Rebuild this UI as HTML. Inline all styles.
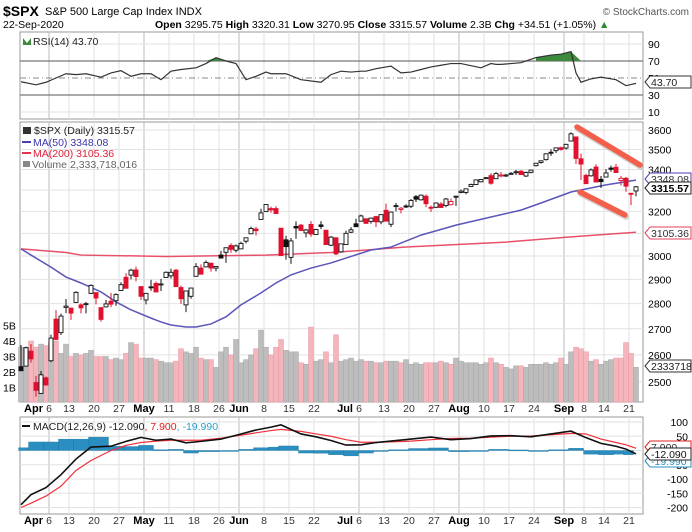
<!DOCTYPE html>
<html><head><meta charset="utf-8">
<style>
body{margin:0;background:#fff;font-family:"Liberation Sans",sans-serif;}
svg{display:block}
text{font-family:"Liberation Sans",sans-serif;}
</style></head><body>
<svg id="c" width="692" height="532" viewBox="0 0 692 532">
<text x="3" y="16" font-size="14" font-weight="bold">$SPX</text>
<text x="45" y="15" font-size="11">S&amp;P 500 Large Cap Index  INDX</text>
<text x="689" y="15" font-size="10" fill="#555" text-anchor="end">© StockCharts.com</text>
<text x="3" y="28" font-size="10.5">22-Sep-2020</text>
<text x="155" y="28" font-size="10.5"><tspan font-weight="bold">Open</tspan> 3295.75 <tspan font-weight="bold">High</tspan> 3320.31 <tspan font-weight="bold">Low</tspan> 3270.95 <tspan font-weight="bold">Close</tspan> 3315.57 <tspan font-weight="bold">Volume</tspan> 2.3B <tspan font-weight="bold">Chg</tspan> +34.51 (+1.05%) <tspan fill="#2a8a2a">▲</tspan></text>
<g id="g"></g>
</svg>
<script>
const dates=["3/27","3/30","3/31","4/1","4/2","4/3","4/6","4/7","4/8","4/9","4/13","4/14","4/15","4/16","4/17","4/20","4/21","4/22","4/23","4/24","4/27","4/28","4/29","4/30","5/1","5/4","5/5","5/6","5/7","5/8","5/11","5/12","5/13","5/14","5/15","5/18","5/19","5/20","5/21","5/22","5/26","5/27","5/28","5/29","6/1","6/2","6/3","6/4","6/5","6/8","6/9","6/10","6/11","6/12","6/15","6/16","6/17","6/18","6/19","6/22","6/23","6/24","6/25","6/26","6/29","6/30","7/1","7/2","7/6","7/7","7/8","7/9","7/10","7/13","7/14","7/15","7/16","7/17","7/20","7/21","7/22","7/23","7/24","7/27","7/28","7/29","7/30","7/31","8/3","8/4","8/5","8/6","8/7","8/10","8/11","8/12","8/13","8/14","8/17","8/18","8/19","8/20","8/21","8/24","8/25","8/26","8/27","8/28","8/31","9/1","9/2","9/3","9/4","9/8","9/9","9/10","9/11","9/14","9/15","9/16","9/17","9/18","9/21","9/22"];
const opens=[2556,2558,2614,2498,2459,2515,2578,2738,2685,2785,2782,2805,2795,2799,2842,2845,2784,2787,2810,2812,2854,2909,2918,2940,2870,2815,2869,2883,2879,2908,2915,2939,2866,2795,2830,2913,2948,2953,2969,2948,3004,3016,3046,3025,3031,3065,3098,3119,3163,3199,3213,3213,3123,3071,2994,3131,3137,3102,3140,3095,3138,3114,3047,3080,3018,3050,3105,3143,3155,3166,3154,3176,3152,3205,3141,3225,3209,3225,3224,3269,3254,3271,3219,3219,3234,3227,3231,3270,3289,3289,3317,3327,3340,3356,3370,3355,3372,3368,3380,3388,3392,3368,3386,3419,3435,3449,3486,3494,3509,3507,3543,3564,3453,3371,3369,3412,3352,3363,3407,3411,3346,3357,3285,3296];
const highs=[2637,2631,2641,2522,2540,2520,2677,2774,2760,2819,2783,2851,2801,2807,2880,2845,2785,2815,2844,2842,2888,2926,2945,2954,2870,2844,2898,2891,2902,2934,2945,2944,2874,2853,2865,2969,2964,2981,2970,2956,3022,3037,3056,3050,3063,3081,3130,3129,3212,3233,3222,3224,3124,3089,3079,3154,3142,3120,3155,3120,3155,3115,3088,3082,3054,3112,3128,3166,3185,3168,3172,3180,3186,3236,3198,3239,3220,3233,3258,3277,3279,3280,3227,3242,3243,3263,3260,3273,3303,3308,3331,3352,3352,3363,3382,3387,3388,3379,3388,3399,3396,3390,3399,3432,3445,3481,3501,3510,3514,3529,3588,3565,3479,3379,3405,3425,3368,3402,3419,3428,3369,3363,3285,3320];
const lows=[2540,2558,2571,2447,2459,2488,2573,2656,2676,2762,2735,2803,2761,2761,2840,2797,2728,2785,2786,2791,2854,2862,2900,2892,2815,2797,2853,2846,2852,2907,2904,2870,2799,2766,2820,2913,2922,2953,2933,2934,2992,2970,3014,3015,3030,3055,3097,3090,3164,3199,3194,3190,3001,2984,2966,3076,3110,3082,3084,3094,3119,3048,3043,3004,3014,3048,3101,3128,3155,3144,3144,3128,3141,3154,3128,3200,3191,3216,3216,3244,3251,3220,3198,3215,3218,3219,3228,3225,3285,3280,3317,3324,3337,3355,3326,3355,3362,3363,3379,3373,3374,3363,3381,3415,3429,3444,3468,3483,3494,3500,3541,3427,3349,3330,3365,3339,3310,3363,3389,3384,3322,3292,3230,3270];
const closes=[2541,2627,2585,2470,2526,2489,2664,2659,2750,2790,2762,2846,2783,2800,2875,2823,2737,2799,2798,2837,2878,2863,2939,2912,2830,2842,2868,2848,2881,2930,2930,2870,2820,2852,2864,2954,2922,2972,2948,2955,2991,3036,3029,3044,3055,3080,3122,3112,3193,3232,3207,3190,3002,3041,3066,3124,3113,3115,3097,3117,3131,3050,3083,3009,3053,3100,3116,3130,3179,3145,3169,3152,3185,3155,3197,3227,3215,3224,3251,3257,3276,3236,3216,3239,3218,3258,3246,3271,3295,3306,3327,3349,3351,3360,3333,3380,3373,3373,3381,3389,3375,3385,3397,3431,3443,3478,3484,3508,3500,3526,3580,3455,3427,3331,3398,3339,3341,3383,3401,3385,3357,3319,3281,3316];
const volumes=[3.6,3.6,4.0,3.6,3.8,3.7,3.9,4.0,3.2,3.8,3.0,3.2,3.1,3.2,3.4,3.0,3.0,3.0,2.8,2.9,2.8,3.2,3.9,3.8,2.9,2.9,2.9,2.8,2.7,2.6,2.6,2.7,3.5,3.3,3.2,3.6,2.9,2.8,2.8,2.3,3.3,3.6,3.1,4.1,2.6,2.8,3.1,3.5,4.7,3.6,3.1,3.6,4.1,3.4,3.3,3.3,2.6,2.5,4.9,2.7,2.8,3.3,2.6,4.4,2.7,2.8,2.9,2.7,2.8,2.7,2.7,2.6,2.6,2.7,2.7,2.7,2.6,2.8,2.5,2.6,2.5,2.6,2.6,2.6,2.7,2.6,2.5,2.9,2.7,2.6,2.6,2.6,2.5,2.6,2.9,2.6,2.5,2.3,2.2,2.4,2.4,2.3,2.5,2.5,2.5,2.6,2.5,2.6,2.9,2.5,3.3,3.6,3.5,3.3,2.7,2.8,2.5,2.7,2.8,2.9,2.9,3.9,3.2,2.3];
const ma50Idx=[0,2,6,9,12,16,19,22,26,28,30,33,35,38,41,44,48,51,54,58,62,65,70,74,80,87,94,100,104,110,117,123];
const ma50Vals=[3031,3004,2952,2910,2885,2848,2807,2775,2742,2727,2715,2707,2707,2719,2747,2795,2844,2885,2919,2948,2970,2991,3026,3039,3092,3137,3174,3206,3239,3291,3325,3348];
const ma200Idx=[0,9,12,29,49,62,64,77,97,110,123];
const ma200Vals=[3031,3015,3004,2998,3004,3015,3018,3039,3061,3084,3105];
const rsiIdx=[0,3,5,7,9,11,13,16,18,20,22,24,26,28,30,32,35,37,39,41,43,45,47,49,50,52,53,56,60,62,64,66,68,69,71,74,76,78,80,82,84,86,88,92,94,95,96,100,103,106,108,110,111,112,114,116,119,121,123];
const rsiVals=[45.6,42,45,50,55,54,55,51,56,58.6,52,55,55,48,58,60,62,67,74,70,67,48,52,57,55,55,55,48,45,54,58,57,58,58,61,64,56,57,60,63,65,67,67,62,67,66,66,68,74,77,78,81,56,45,49,51,48,41,43.7];
const macdIdx=[0,2,5,8,11,14,18,21,24,27,30,33,36,40,44,47,50,52,56,59,62,65,68,71,74,78,82,86,90,94,98,102,106,110,113,116,119,121,123];
const macdVals=[-190,-155,-130,-85,-30,12,15,32,46,36,40,27,32,40,58,72,82,90,58,48,35,19,20,28,33,40,47,38,42,51,52,48,58,68,45,25,15,5,-12.09];
const signalVals=[-200,-185,-160,-125,-70,-35,0,18,28,33,36,36,36,43,54,62,70,74,67,58,50,38,29,29,30,33,38,42,43,47,50,51,55,60,58,40,28,20,7.9];
const priceTicks=[2500,2600,2700,2800,2900,3000,3100,3200,3300,3400,3500,3600];
const volTicks=[1,2,3,4,5];
const rsiTicks=[10,30,50,70,90];
const macdTicks=[-200,-150,-100,-50,0,50,100];
const xLabels=[["Apr",6,"6"],["",10,"13"],["",15,"20"],["",20,"27"],["May",25,""],["",30,"11"],["",35,"18"],["",40,"26"],["Jun",44,""],["",49,"8"],["",54,"15"],["",59,"22"],["Jul",68,"6"],["",73,"13"],["",78,"20"],["",83,"27"],["Aug",88,""],["",93,"10"],["",98,"17"],["",103,"24"],["Sep",109,""],["",113,"8"],["",117,"14"],["",122,"21"]];

const NS="http://www.w3.org/2000/svg";
const G=document.getElementById('g');
function el(t,a,p){const e=document.createElementNS(NS,t);for(const k in a)e.setAttribute(k,a[k]);(p||G).appendChild(e);return e;}
const L=20,R=643;
const xAt=i=>21+i*5;
const yP=p=>130+691*Math.log(3600/p);
const yV=v=>403-v*15.5;
const yR=v=>61+(70-v)*0.85;
const yM=v=>450.5-v*0.285;

function panel(y1,y2,name){const r=el('rect',{x:L,y:y1,width:R-L,height:y2-y1,fill:'#fff',stroke:'#999','stroke-width':1});
}
panel(32,119,'rsi-panel');panel(122,402,'price-panel');panel(417,514,'macd-panel');

function vgrid(y1,y2){xLabels.forEach(l=>{const x=xAt(l[1])-2;el('line',{x1:x,x2:x,y1:y1,y2:y2,stroke:l[0]?'#bbb':'#e2e2e2','stroke-width':1});});}
vgrid(32,119);vgrid(122,402);vgrid(417,514);

rsiTicks.forEach(t=>{const y=yR(t);
 if(t==70||t==30)el('line',{x1:L,x2:R,y1:y,y2:y,stroke:'#777','stroke-width':1.2});
 else if(t==50)el('line',{x1:L,x2:R,y1:y,y2:y,stroke:'#888','stroke-dasharray':'6,3,1,3'});
 else el('line',{x1:L,x2:R,y1:y,y2:y,stroke:'#e2e2e2'});
 const tx=el('text',{x:648,y:y+4,'font-size':10.5});tx.textContent=t;
 
 
});
const rsiPts=rsiIdx.map((i,k)=>[xAt(i),yR(rsiVals[k])]);
[[17,20],[48,53]].forEach(([a,b])=>{let pts=[[rsiPts[a][0],yR(70)]];for(let k=a;k<=b;k++)if(rsiVals[k]>=70)pts.push(rsiPts[k]);pts.push([rsiPts[b][0],yR(70)]);
 const f=el('polygon',{points:pts.map(p=>p.join(',')).join(' '),fill:'#3d8a3d'});
 
 });
const rl=el('polyline',{points:rsiPts.map(p=>p.join(',')).join(' '),fill:'none',stroke:'#333','stroke-width':1.2});



priceTicks.forEach(t=>{const y=yP(t);el('line',{x1:L,x2:R,y1:y,y2:y,stroke:'#e2e2e2'});
 const tx=el('text',{x:648,y:y+4,'font-size':10.5});tx.textContent=t;
 
 });
volTicks.forEach(t=>{const tx=el('text',{x:3,y:yV(t)+4,'font-size':10.5});tx.textContent=t+'B';
 
 });

volumes.forEach((v,i)=>{const down=i>0&&closes[i]<closes[i-1];
 const b=el('rect',{x:xAt(i)-2.5,y:yV(v),width:5,height:403-yV(v)-1,fill:down?'#f4b6bc':'#bdbdbd',stroke:down?'#e89aa2':'#a8a8a8','stroke-width':0.5});
 
 });

function line(idx,vals,fy,col,w,name){const l=el('polyline',{points:idx.map((i,k)=>xAt(i)+','+fy(vals[k])).join(' '),fill:'none',stroke:col,'stroke-width':w});
 return l;}
line(ma200Idx,ma200Vals,yP,'#e8506a',1.5,'ma200-line');
line(ma50Idx,ma50Vals,yP,'#5a55b8',1.5,'ma50-line');

closes.forEach((c,i)=>{const o=opens[i],x=xAt(i);const down=i>0&&c<closes[i-1];const col=down?'#e0102e':'#111';
 const g=el('g',{});
 
 
 el('line',{x1:x,x2:x,y1:yP(highs[i]),y2:yP(lows[i]),stroke:col,'stroke-width':1},g);
 const t=yP(Math.max(o,c)),b=yP(Math.min(o,c));
 el('rect',{x:x-2,y:t,width:4,height:Math.max(1,b-t),fill:c<o?col:'#fff',stroke:col,'stroke-width':0.9},g);});

[[577,127,640,165],[580,192,625,215]].forEach(s=>{el('line',{x1:s[0]+1,y1:s[1]+2,x2:s[2]+1,y2:s[3]+2,stroke:'#bbb','stroke-width':6,'stroke-linecap':'round',opacity:0.6});
 const a=el('line',{x1:s[0],y1:s[1],x2:s[2],y2:s[3],stroke:'#f2604c','stroke-width':5.5,'stroke-linecap':'round'});
 
 });

macdTicks.forEach(t=>{const y=yM(t);el('line',{x1:L,x2:R,y1:y,y2:y,stroke:'#e2e2e2'});
 if(t!==0){const tx=el('text',{x:688,y:y+4,'font-size':10.5,'text-anchor':'end'});tx.textContent=t;
 
 }});
macdIdx.forEach((i,k)=>{if(k==macdIdx.length-1)return;const h=macdVals[k]-signalVals[k];const x1=xAt(i)-2.5,x2=xAt(macdIdx[k+1])-2.5;
 const y0=yM(0),y=yM(h);
 const b=el('rect',{x:x1,y:Math.min(y0,y),width:x2-x1,height:Math.max(1,Math.abs(y-y0)),fill:'#2a8fc0',stroke:'#1a6f9a','stroke-width':0.3});
 
 });
line(macdIdx,signalVals,yM,'#f0303a',1.2,'macd-signal-line');
line(macdIdx,macdVals,yM,'#111',1.6,'macd-line');

[[412],[524]].forEach(([y])=>{xLabels.forEach(l=>{const x=xAt(l[1])-2;
 if(l[0]){const t=el('text',{x:x+(l[2]?-6:0),y:y,'font-size':11,'font-weight':'bold','text-anchor':l[2]?'end':'middle'});t.textContent=l[0];
  
  }
 if(l[2]){const t=el('text',{x:x,y:y,'font-size':10.5,'text-anchor':'middle',fill:'#333'});t.textContent=l[2];
  
  }});});

function txt(x,y,s,col,name,extra){const t=el('text',Object.assign({x:x,y:y,'font-size':10.5,fill:col},extra||{}));t.textContent=s;
 return t;}
el('path',{d:'M23 45 L23 38 L27 43 L31 38 L31 45 Z',fill:'#3d8a3d'});
txt(33,45,'RSI(14) 43.70','#222','rsi-legend');
el('rect',{x:23,y:127,width:8,height:7,fill:'#333'});
txt(34,134,'$SPX (Daily) 3315.57','#222','price-legend');
el('line',{x1:22,x2:31,y1:142,y2:142,stroke:'#4a3fb0','stroke-width':2});
txt(33,146,'MA(50) 3348.08','#3b36a8','ma50-legend');
el('line',{x1:22,x2:31,y1:153,y2:153,stroke:'#e8304a','stroke-width':2});
txt(33,157,'MA(200) 3105.36','#e0203a','ma200-legend');
el('rect',{x:23,y:161,width:7,height:6,fill:'#888'});
txt(32,168,'Volume 2,333,718,016','#666','volume-legend');
el('line',{x1:22,x2:30,y1:426,y2:426,stroke:'#111','stroke-width':2});
const ml=txt(33,430,'MACD(12,26,9) -12.090','#222','macd-legend');
const s1=el('tspan',{fill:'#e02020'},ml);s1.textContent=', 7.900';
const s2=el('tspan',{fill:'#2aa0d0'},ml);s2.textContent=', -19.990';

function tag(y,s,stroke,col,bold,name){const g=el('g',{});
 
 el('path',{d:`M${R+2} ${y} L${R+7} ${y-6} L691 ${y-6} L691 ${y+6} L${R+7} ${y+6} Z`,fill:'#fff',stroke:stroke,'stroke-width':1},g);
 const t=el('text',{x:R+8,y:y+4,'font-size':10.5,fill:col,'font-weight':bold?'bold':'normal'},g);t.textContent=s;}
tag(82,'43.70','#333','#222',false,'rsi-value-tag');
tag(179,'3348.08','#4a3fb0','#333',false,'ma50-value-tag');
tag(188,'3315.57','#222','#000',true,'close-value-tag');
tag(233,'3105.36','#e0405a','#333',false,'ma200-value-tag');
tag(366,'2333718','#333','#222',false,'volume-value-tag');
tag(461,'-19.990','#2a8fc0','#2a8fc0',false,'histogram-value-tag');
tag(447,'7.900','#e02020','#333',false,'signal-value-tag');
tag(454,'-12.090','#222','#111',false,'macd-value-tag');
</script>
</body></html>
